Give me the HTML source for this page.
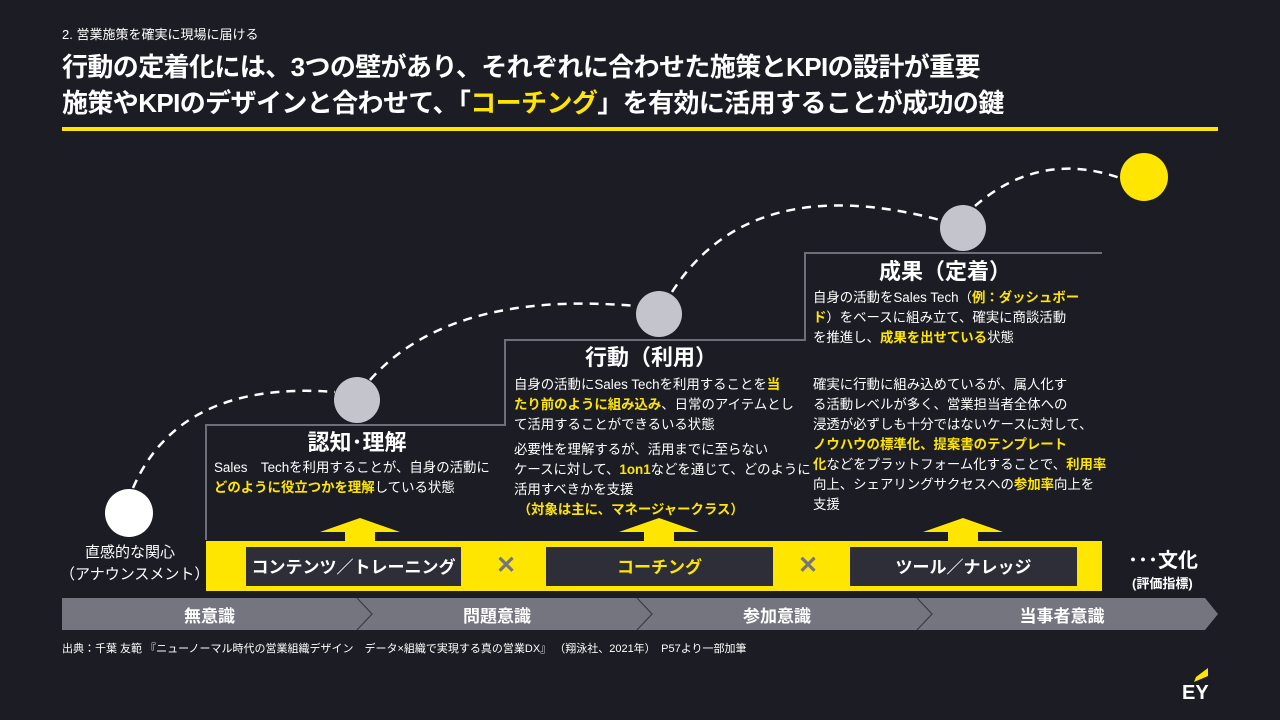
<!DOCTYPE html>
<html><head><meta charset="utf-8"><style>
body{margin:0;width:1280px;height:720px;background:#1c1c24;overflow:hidden;position:relative;font-family:"Liberation Sans","Noto Sans CJK JP",sans-serif;color:#fff}
.a{position:absolute;white-space:nowrap}
.y{color:#ffe600;font-weight:bold}
.t{font-size:13.4px;line-height:20px;color:#fff}
</style></head><body>
<div class="a" style="left:62px;top:24px;font-size:13px">2. 営業施策を確実に現場に届ける</div>
<div class="a" style="left:62px;top:49px;font-size:26px;font-weight:bold;line-height:36px;letter-spacing:-0.6px">行動の定着化には、3つの壁があり、それぞれに合わせた施策とKPIの設計が重要<br>施策やKPIのデザインと合わせて、「<span style="color:#ffe600">コーチング</span>」を有効に活用することが成功の鍵</div>
<div class="a" style="left:62px;top:127px;width:1156px;height:4px;background:#ffe600"></div>
<svg class="a" style="left:0;top:0" width="1280" height="720">
<g fill="none" stroke="#fff" stroke-width="2.5" stroke-dasharray="9,7">
<path d="M133 488 Q180 380 335 392"/>
<path d="M370 380 Q450 290 636 306"/>
<path d="M672 292 Q750 170 940 220"/>
<path d="M975 206 Q1040 150 1120 178"/>
</g>
<path d="M206 540 V425 H505 V340 H805 V253 H1102" fill="none" stroke="#6e6e78" stroke-width="2"/>
<circle cx="129" cy="513" r="24" fill="#fff"/>
<circle cx="357" cy="400" r="23" fill="#c4c4cc"/>
<circle cx="659" cy="314" r="23" fill="#c4c4cc"/>
<circle cx="963" cy="228" r="23" fill="#c4c4cc"/>
<circle cx="1144" cy="177" r="24" fill="#ffe600"/>
<g fill="#ffe600">
<path d="M320 532 L360 518 L400 532 L375 532 V542 H345 V532Z"/>
<path d="M619 532 L659 518 L699 532 L674 532 V542 H644 V532Z"/>
<path d="M923 532 L963 518 L1003 532 L978 532 V542 H948 V532Z"/>
</g>
<rect x="206" y="541" width="896" height="50" fill="#ffe600"/>
<rect x="246" y="547" width="215" height="39" fill="#2e2e38"/>
<rect x="546" y="547" width="227" height="39" fill="#2e2e38"/>
<rect x="850" y="547" width="227" height="39" fill="#2e2e38"/>
<path d="M62 598 H1205 L1218 614 L1205 630 H62Z" fill="#75757f"/>
<g fill="none" stroke="#3a3a44" stroke-width="1.2">
<path d="M357 598 L372 614 L357 630"/><path d="M637 598 L652 614 L637 630"/><path d="M917 598 L932 614 L917 630"/>
</g>
<path d="M1196 677 L1208 668 V676 L1194 682Z" fill="#ffe600"/>
</svg>
<div class="a" style="left:226px;top:425px;width:262px;text-align:center;font-size:22px;font-weight:bold">認知･理解</div>
<div class="a t" style="left:214px;top:458px">Sales　Techを利用することが、自身の活動に<br><span class="y">どのように役立つかを理解</span>している状態</div>
<div class="a" style="left:520px;top:340px;width:262px;text-align:center;font-size:22px;font-weight:bold">行動（利用）</div>
<div class="a t" style="left:514px;top:375px">自身の活動にSales Techを利用することを<span class="y">当</span><br><span class="y">たり前のように組み込み</span>、日常のアイテムとし<br>て活用することができるいる状態</div>
<div class="a t" style="left:514px;top:440px">必要性を理解するが、活用までに至らない<br>ケースに対して、<span class="y">1on1</span>などを通じて、どのように<br>活用すべきかを支援<br>&nbsp;<span class="y">（対象は主に、マネージャークラス）</span></div>
<div class="a" style="left:820px;top:254px;width:250px;text-align:center;font-size:22px;font-weight:bold">成果（定着）</div>
<div class="a t" style="left:813px;top:288px">自身の活動をSales Tech（<span class="y">例：ダッシュボー</span><br><span class="y">ド</span>）をベースに組み立て、確実に商談活動<br>を推進し、<span class="y">成果を出せている</span>状態</div>
<div class="a t" style="left:813px;top:375px">確実に行動に組み込めているが、属人化す<br>る活動レベルが多く、営業担当者全体への<br>浸透が必ずしも十分ではないケースに対して、<br><span class="y">ノウハウの標準化、提案書のテンプレート</span><br><span class="y">化</span>などをプラットフォーム化することで、<span class="y">利用率</span><br>向上、シェアリングサクセスへの<span class="y">参加率</span>向上を<br>支援</div>
<div class="a" style="left:60px;top:542px;width:140px;text-align:center;font-size:15px;line-height:22px">直感的な関心<br>（アナウンスメント）</div>
<div class="a" style="left:246px;top:553px;width:215px;text-align:center;font-size:17px;font-weight:bold">コンテンツ／トレーニング</div>
<div class="a" style="left:546px;top:553px;width:227px;text-align:center;font-size:17px;font-weight:bold;color:#ffe600">コーチング</div>
<div class="a" style="left:850px;top:553px;width:227px;text-align:center;font-size:17px;font-weight:bold">ツール／ナレッジ</div>
<div class="a" style="left:496px;top:551px;font-size:24px;font-weight:bold;color:#75757f">✕</div>
<div class="a" style="left:798px;top:551px;font-size:24px;font-weight:bold;color:#75757f">✕</div>
<div class="a" style="left:1128px;top:544px;font-size:20px;font-weight:bold">･･･文化</div>
<div class="a" style="left:1132px;top:573px;font-size:13px;font-weight:bold">(評価指標)</div>
<div class="a" style="left:62px;top:602px;width:295px;text-align:center;font-size:17px;font-weight:bold">無意識</div>
<div class="a" style="left:357px;top:602px;width:280px;text-align:center;font-size:17px;font-weight:bold">問題意識</div>
<div class="a" style="left:637px;top:602px;width:280px;text-align:center;font-size:17px;font-weight:bold">参加意識</div>
<div class="a" style="left:917px;top:602px;width:290px;text-align:center;font-size:17px;font-weight:bold">当事者意識</div>
<div class="a" style="left:62px;top:640px;font-size:11px">出典：千葉 友範 『ニューノーマル時代の営業組織デザイン　データ×組織で実現する真の営業DX』 （翔泳社、2021年）　P57より一部加筆</div>
<div class="a" style="left:1182px;top:682px;font-size:20px;font-weight:bold">EY</div>
</body></html>
